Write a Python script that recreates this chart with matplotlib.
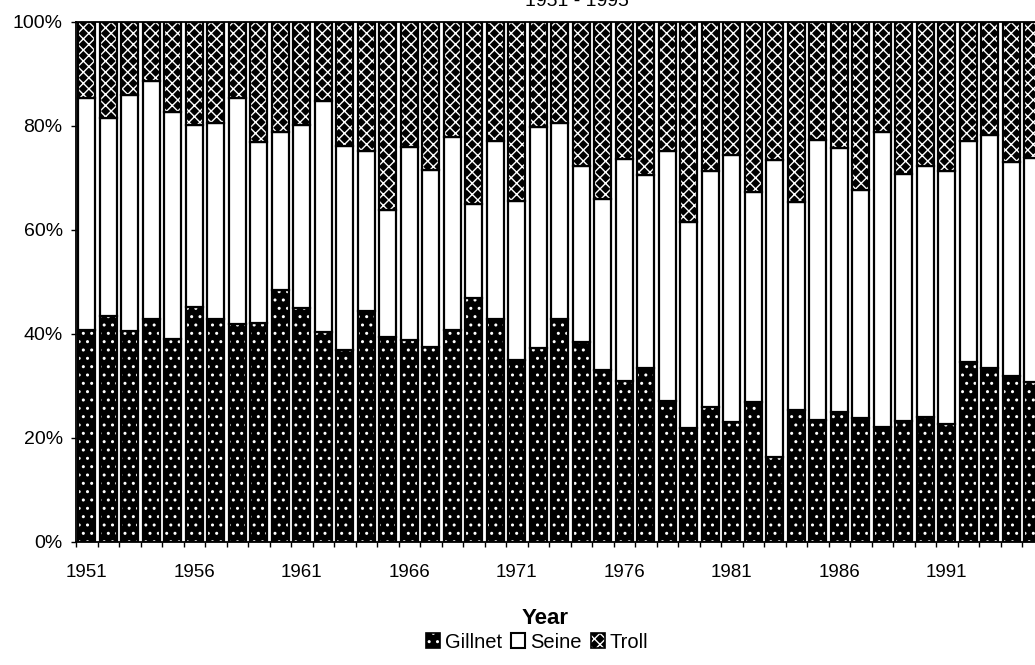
import matplotlib
matplotlib.use("Agg")
import matplotlib.pyplot as plt
from matplotlib.patches import Patch
import numpy as np

plt.rcParams['font.family'] = ['Liberation Sans', 'DejaVu Sans']
plt.rcParams['hatch.linewidth'] = 1.0

# data (percent of catch by gear)
years = list(range(1951, 1996))
gillnet = [40.8, 43.4, 40.5, 42.9, 39.1, 45.1, 42.9, 41.9, 42.2, 48.4,
           45.0, 40.3, 37.0, 44.4, 39.4, 38.8, 37.5, 40.8, 47.0, 42.9,
           35.0, 37.4, 42.9, 38.4, 33.1, 31.0, 33.4, 27.2, 21.9, 25.9,
           23.0, 26.9, 16.3, 25.3, 23.4, 25.0, 23.9, 22.1, 23.2, 24.1,
           22.7, 34.6, 33.4, 31.9, 30.8]
# top of the seine segment (gillnet + seine)
seine_top = [85.3, 81.5, 86.0, 88.6, 82.6, 80.1, 80.5, 85.3, 76.9, 78.8,
             80.1, 84.8, 76.1, 75.2, 63.9, 76.0, 71.5, 77.9, 65.0, 77.2,
             65.5, 79.9, 80.6, 72.4, 65.9, 73.7, 70.5, 75.2, 61.5, 71.3,
             74.4, 67.4, 73.4, 65.3, 77.4, 75.7, 67.6, 78.9, 70.8, 72.3,
             71.3, 77.2, 78.2, 73.1, 73.9]

gillnet = np.array(gillnet)
seine = np.array(seine_top) - gillnet
troll = 100 - np.array(seine_top)

fig = plt.figure(figsize=(10.35, 6.65), dpi=100)
ax = fig.add_axes([76 / 1035, 123 / 665, 967.5 / 1035, 520 / 665])

x = np.arange(len(years))
w = 0.8

# gillnet: black with white dots
ax.bar(x, gillnet, w, color='black', edgecolor='white', hatch='..', linewidth=0)
ax.bar(x, gillnet, w, fill=False, edgecolor='black', linewidth=1.6)
# seine: plain white
ax.bar(x, seine, w, bottom=gillnet, color='white', edgecolor='black', linewidth=1.6)
# troll: black with white crosses
ax.bar(x, troll, w, bottom=gillnet + seine, color='black', edgecolor='white',
       hatch='xxx', linewidth=0)
ax.bar(x, troll, w, bottom=gillnet + seine, fill=False, edgecolor='black', linewidth=1.6)

ax.set_xlim(-0.5, len(years) - 0.5)
ax.set_ylim(0, 100)

ax.set_yticks(range(0, 101, 20))
ax.set_yticklabels([f"{v}%" for v in range(0, 101, 20)])
ax.tick_params(axis='y', direction='out', length=3.6, width=1, pad=6, labelsize=14)

ax.set_xticks(x[::5])
ax.set_xticklabels([str(y) for y in years[::5]])
ax.set_xticks(np.arange(-0.5, len(years), 1), minor=True)
ax.tick_params(axis='x', which='major', length=0, pad=16, labelsize=13.5)
ax.tick_params(axis='x', which='minor', direction='out', length=3.6, width=1)

for s in ['left', 'bottom', 'top']:
    ax.spines[s].set_linewidth(1.3)
ax.spines['right'].set_visible(False)

fig.text(577 / 1035, 1 - 6 / 665, "1951 - 1995", ha='center', va='baseline', fontsize=14)
fig.text(545 / 1035, 1 - 618 / 665, "Year", ha='center', va='center',
         fontsize=16, fontweight='bold')

handles = [
    (Patch(facecolor='black', edgecolor='white', hatch='..', linewidth=0),
     Patch(fill=False, edgecolor='black', linewidth=1.2)),
    Patch(facecolor='white', edgecolor='black', linewidth=1.5),
    (Patch(facecolor='black', edgecolor='white', hatch='xxx', linewidth=0),
     Patch(fill=False, edgecolor='black', linewidth=1.2)),
]
fig.legend(handles, ['Gillnet', 'Seine', 'Troll'], loc='center',
           bbox_to_anchor=(537 / 1035, 1 - 642 / 665), ncol=3, frameon=False,
           fontsize=14.5, handlelength=0.7, handleheight=0.7,
           handletextpad=0.25, columnspacing=0.45, borderpad=0)

fig.savefig("out.png", dpi=100)
